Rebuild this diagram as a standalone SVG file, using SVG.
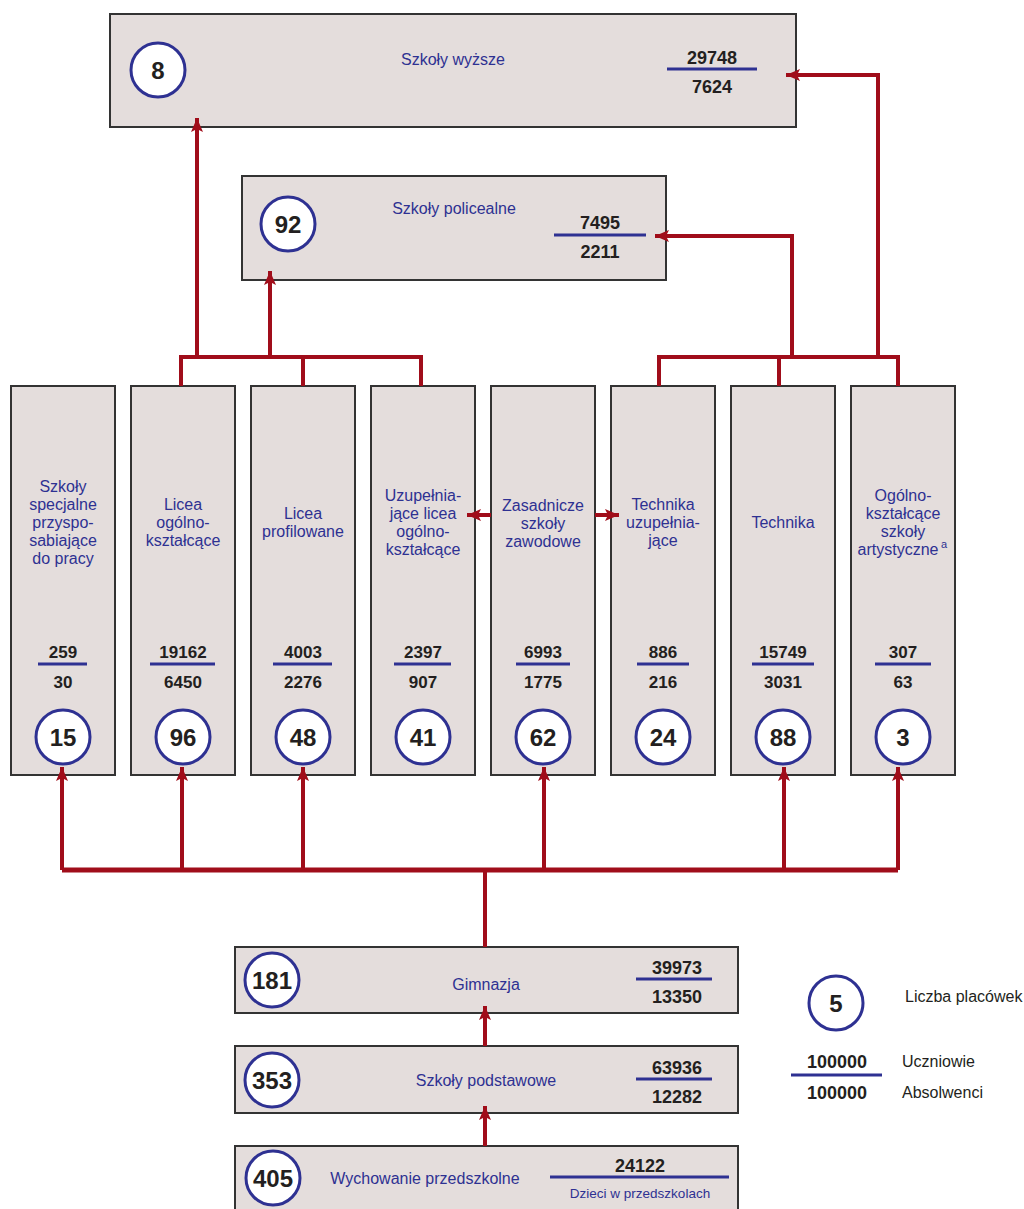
<svg xmlns="http://www.w3.org/2000/svg" width="1024" height="1209" viewBox="0 0 1024 1209">
<style>
.box{fill:#e4dddc;stroke:#333;stroke-width:2}
.circ{fill:#fff;stroke:#2e3192;stroke-width:3}
.cn{font-family:"Liberation Sans",Arial,sans-serif;font-weight:bold;font-size:24px;fill:#231f20;text-anchor:middle}
.cnn{font-family:"Liberation Sans Narrow","Liberation Sans",Arial,sans-serif;font-weight:bold;font-size:24px;fill:#231f20;text-anchor:middle}
.lbl{font-family:"Liberation Sans",Arial,sans-serif;font-size:16px;fill:#2e3192;text-anchor:middle}
.lbln{font-family:"Liberation Sans Narrow","Liberation Sans",Arial,sans-serif;font-size:16px;fill:#2e3192;text-anchor:middle}
.num{font-family:"Liberation Sans",Arial,sans-serif;font-weight:bold;font-size:17px;fill:#231f20;text-anchor:middle}
.numn{font-family:"Liberation Sans Narrow","Liberation Sans",Arial,sans-serif;font-weight:bold;font-size:18px;fill:#231f20;text-anchor:middle}
.leg{font-family:"Liberation Sans Narrow","Liberation Sans",Arial,sans-serif;font-size:16px;fill:#231f20}
.bar{stroke:#2e3192;stroke-width:3}
.con{fill:none;stroke:#a00d1a;stroke-width:4}
</style>
<defs>
<marker id="ah" markerUnits="userSpaceOnUse" markerWidth="16" markerHeight="12" refX="14" refY="6" orient="auto">
<path d="M0,0 L14,6 L0,12 L3,6 Z" fill="#a00d1a"/>
</marker>
</defs>

<g id="szkoly-wyzsze">
<rect class="box" x="110" y="14" width="686" height="113"/>
<circle class="circ" cx="158" cy="70" r="27"/>
<text class="cnn" x="158" y="79">8</text>
<text class="lbln" x="453" y="65">Szkoły wyższe</text>
<text class="numn" x="712" y="64">29748</text>
<line class="bar" x1="667" y1="69" x2="757" y2="69"/>
<text class="numn" x="712" y="93">7624</text>
</g>

<g id="szkoly-policealne">
<rect class="box" x="242" y="176" width="424" height="104"/>
<circle class="circ" cx="288" cy="224" r="27"/>
<text class="cnn" x="288" y="233">92</text>
<text class="lbln" x="454" y="214">Szkoły policealne</text>
<text class="numn" x="600" y="229">7495</text>
<line class="bar" x1="554" y1="235" x2="646" y2="235"/>
<text class="numn" x="600" y="258">2211</text>
</g>

<g id="col-specjalne">
<rect class="box" x="11" y="386" width="104" height="389"/>
<text class="lbl" x="63" y="492"><tspan x="63">Szkoły</tspan><tspan x="63" dy="18">specjalne</tspan><tspan x="63" dy="18">przyspo-</tspan><tspan x="63" dy="18">sabiające</tspan><tspan x="63" dy="18">do pracy</tspan></text>
<text class="num" x="63" y="658">259</text>
<line class="bar" x1="38" y1="664" x2="87" y2="664"/>
<text class="num" x="63" y="688">30</text>
<circle class="circ" cx="63" cy="737" r="27"/>
<text class="cn" x="63" y="746">15</text>
</g>

<g id="col-licea-ogolno">
<rect class="box" x="131" y="386" width="104" height="389"/>
<text class="lbl" x="183" y="510"><tspan x="183">Licea</tspan><tspan x="183" dy="18">ogólno-</tspan><tspan x="183" dy="18">kształcące</tspan></text>
<text class="num" x="183" y="658">19162</text>
<line class="bar" x1="150" y1="664" x2="215" y2="664"/>
<text class="num" x="183" y="688">6450</text>
<circle class="circ" cx="183" cy="737" r="27"/>
<text class="cn" x="183" y="746">96</text>
</g>

<g id="col-licea-profilowane">
<rect class="box" x="251" y="386" width="104" height="389"/>
<text class="lbl" x="303" y="519"><tspan x="303">Licea</tspan><tspan x="303" dy="18">profilowane</tspan></text>
<text class="num" x="303" y="658">4003</text>
<line class="bar" x1="273" y1="664" x2="332" y2="664"/>
<text class="num" x="303" y="688">2276</text>
<circle class="circ" cx="303" cy="737" r="27"/>
<text class="cn" x="303" y="746">48</text>
</g>

<g id="col-uzupelniajace-licea">
<rect class="box" x="371" y="386" width="104" height="389"/>
<text class="lbl" x="423" y="501"><tspan x="423">Uzupełnia-</tspan><tspan x="423" dy="18">jące licea</tspan><tspan x="423" dy="18">ogólno-</tspan><tspan x="423" dy="18">kształcące</tspan></text>
<text class="num" x="423" y="658">2397</text>
<line class="bar" x1="394" y1="664" x2="451" y2="664"/>
<text class="num" x="423" y="688">907</text>
<circle class="circ" cx="423" cy="737" r="27"/>
<text class="cn" x="423" y="746">41</text>
</g>

<g id="col-zasadnicze">
<rect class="box" x="491" y="386" width="104" height="389"/>
<text class="lbl" x="543" y="511"><tspan x="543">Zasadnicze</tspan><tspan x="543" dy="18">szkoły</tspan><tspan x="543" dy="18">zawodowe</tspan></text>
<text class="num" x="543" y="658">6993</text>
<line class="bar" x1="516" y1="664" x2="570" y2="664"/>
<text class="num" x="543" y="688">1775</text>
<circle class="circ" cx="543" cy="737" r="27"/>
<text class="cn" x="543" y="746">62</text>
</g>

<g id="col-technika-uzupelniajace">
<rect class="box" x="611" y="386" width="104" height="389"/>
<text class="lbl" x="663" y="510"><tspan x="663">Technika</tspan><tspan x="663" dy="18">uzupełnia-</tspan><tspan x="663" dy="18">jące</tspan></text>
<text class="num" x="663" y="658">886</text>
<line class="bar" x1="637" y1="664" x2="689" y2="664"/>
<text class="num" x="663" y="688">216</text>
<circle class="circ" cx="663" cy="737" r="27"/>
<text class="cn" x="663" y="746">24</text>
</g>

<g id="col-technika">
<rect class="box" x="731" y="386" width="104" height="389"/>
<text class="lbl" x="783" y="528">Technika</text>
<text class="num" x="783" y="658">15749</text>
<line class="bar" x1="752" y1="664" x2="814" y2="664"/>
<text class="num" x="783" y="688">3031</text>
<circle class="circ" cx="783" cy="737" r="27"/>
<text class="cn" x="783" y="746">88</text>
</g>

<g id="col-artystyczne">
<rect class="box" x="851" y="386" width="104" height="389"/>
<text class="lbl" x="903" y="501"><tspan x="903">Ogólno-</tspan><tspan x="903" dy="18">kształcące</tspan><tspan x="903" dy="18">szkoły</tspan><tspan x="898" dy="18">artystyczne</tspan></text>
<text class="lbl" x="944" y="548" style="font-size:11px">a</text>
<text class="num" x="903" y="658">307</text>
<line class="bar" x1="875" y1="664" x2="931" y2="664"/>
<text class="num" x="903" y="688">63</text>
<circle class="circ" cx="903" cy="737" r="27"/>
<text class="cn" x="903" y="746">3</text>
</g>

<g id="gimnazja">
<rect class="box" x="235" y="947" width="503" height="66"/>
<circle class="circ" cx="272" cy="980" r="27"/>
<text class="cnn" x="272" y="989">181</text>
<text class="lbln" x="486" y="990">Gimnazja</text>
<text class="numn" x="677" y="974">39973</text>
<line class="bar" x1="636" y1="979" x2="712" y2="979"/>
<text class="numn" x="677" y="1003">13350</text>
</g>

<g id="szkoly-podstawowe">
<rect class="box" x="235" y="1046" width="503" height="67"/>
<circle class="circ" cx="272" cy="1080" r="27"/>
<text class="cnn" x="272" y="1089">353</text>
<text class="lbln" x="486" y="1086">Szkoły podstawowe</text>
<text class="numn" x="677" y="1074">63936</text>
<line class="bar" x1="636" y1="1079" x2="712" y2="1079"/>
<text class="numn" x="677" y="1103">12282</text>
</g>

<g id="wychowanie-przedszkolne">
<rect class="box" x="235" y="1146" width="503" height="70"/>
<circle class="circ" cx="273" cy="1178" r="27"/>
<text class="cnn" x="273" y="1187">405</text>
<text class="lbln" x="425" y="1184">Wychowanie przedszkolne</text>
<text class="numn" x="640" y="1172">24122</text>
<line class="bar" x1="550" y1="1177" x2="729" y2="1177"/>
<text class="lbln" x="640" y="1198" style="font-size:13.5px">Dzieci w przedszkolach</text>
</g>

<g id="legenda">
<circle class="circ" cx="836" cy="1003" r="27"/>
<text class="cnn" x="836" y="1012">5</text>
<text class="leg" x="905" y="1002">Liczba placówek</text>
<text class="numn" x="837" y="1068">100000</text>
<line class="bar" x1="791" y1="1075" x2="882" y2="1075"/>
<text class="numn" x="837" y="1099">100000</text>
<text class="leg" x="902" y="1067">Uczniowie</text>
<text class="leg" x="902" y="1098">Absolwenci</text>
</g>

<g id="connectors">
<path class="con" d="M181,386 V357 H421 V386 M303,386 V357"/>
<path class="con" d="M197,357 V118" marker-end="url(#ah)"/>
<path class="con" d="M270,357 V271" marker-end="url(#ah)"/>
<path class="con" d="M659,386 V357 H898 V386 M779,386 V357"/>
<path class="con" d="M792,357 V236 H655" marker-end="url(#ah)"/>
<path class="con" d="M878,357 V75 H786" marker-end="url(#ah)"/>
<path class="con" d="M62,870 H898" style="stroke-width:5"/>
<path class="con" d="M62,870 V767" marker-end="url(#ah)"/>
<path class="con" d="M182,870 V767" marker-end="url(#ah)"/>
<path class="con" d="M303,870 V767" marker-end="url(#ah)"/>
<path class="con" d="M544,870 V767" marker-end="url(#ah)"/>
<path class="con" d="M784,870 V767" marker-end="url(#ah)"/>
<path class="con" d="M898,870 V767" marker-end="url(#ah)"/>
<path class="con" d="M485,870 V947"/>
<path class="con" d="M485,1046 V1006" marker-end="url(#ah)"/>
<path class="con" d="M485,1146 V1106" marker-end="url(#ah)"/>
<path class="con" d="M491,515 H467" marker-end="url(#ah)"/>
<path class="con" d="M595,515 H619" marker-end="url(#ah)"/>
</g>
</svg>
